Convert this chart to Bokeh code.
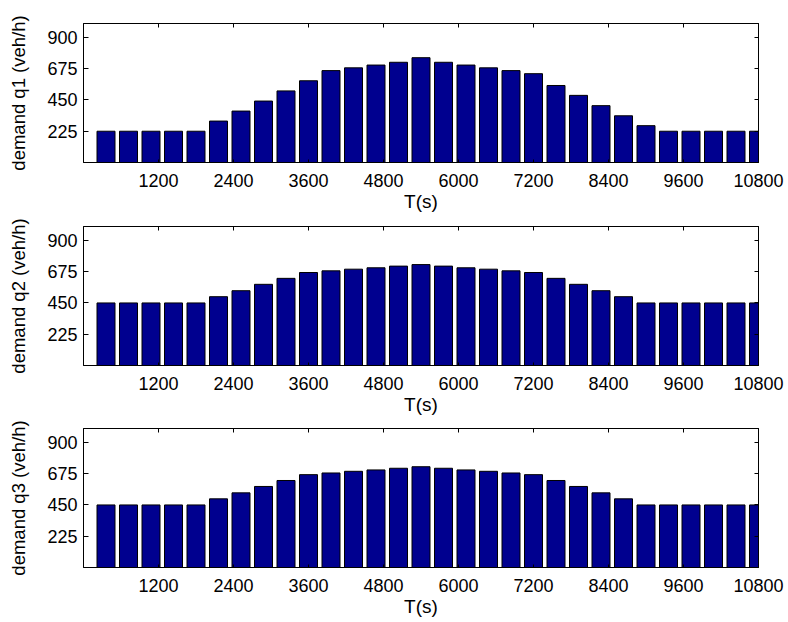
from bokeh.plotting import figure
from bokeh.layouts import column
from bokeh.models import FixedTicker, LinearAxis, Range1d, CustomJSTickFormatter
from bokeh.embed import file_html
from bokeh.resources import INLINE

# ---- data ----
time_s = [360, 720, 1080, 1440, 1800, 2160, 2520, 2880, 3240, 3600,
          3960, 4320, 4680, 5040, 5400, 5760, 6120, 6480, 6840, 7200,
          7560, 7920, 8280, 8640, 9000, 9360, 9720, 10080, 10440, 10800]
q1 = [225, 225, 225, 225, 225, 298, 370, 442, 515, 588,
      661, 681, 701, 721, 754, 721, 701, 681, 661, 639,
      554, 483, 409, 336, 265, 225, 225, 225, 225, 225]
q2 = [450, 450, 450, 450, 450, 495, 538, 584, 627, 669,
      681, 693, 703, 715, 726, 715, 703, 693, 681, 669,
      627, 584, 538, 495, 450, 450, 450, 450, 450, 450]
q3 = [450, 450, 450, 450, 450, 494, 537, 583, 626, 668,
      680, 692, 702, 714, 725, 714, 702, 692, 680, 668,
      626, 583, 537, 494, 450, 450, 450, 450, 450, 450]
x_ticks = [1200, 2400, 3600, 4800, 6000, 7200, 8400, 9600, 10800]
y_ticks = [225, 450, 675, 900]
y_labels = ["demand q1 (veh/h)", "demand q2 (veh/h)", "demand q3 (veh/h)"]
x_label = "T(s)"

FONT = "Liberation Sans"
BAR = "#00008F"


def make_panel(values, ylabel, height, top_b, bottom_b, tick_so, lab_so):
    p = figure(width=788, height=height,
               x_range=Range1d(0, 10800), y_range=Range1d(0, 1000),
               output_backend="svg", toolbar_location=None,
               min_border_left=83, min_border_right=30,
               min_border_top=top_b, min_border_bottom=bottom_b,
               background_fill_color="white", border_fill_color="white")
    p.grid.visible = False
    p.outline_line_color = "black"
    p.outline_line_alpha = 1.0
    p.outline_line_width = 1

    p.vbar(x=time_s, top=values, width=288, bottom=0,
           fill_color=BAR, line_color="black", line_width=1)

    xa = p.xaxis[0]
    xa.ticker = FixedTicker(ticks=x_ticks)
    xa.major_tick_in = 3
    xa.major_tick_out = 0
    xa.minor_tick_in = 0
    xa.minor_tick_out = 0
    xa.major_label_standoff = tick_so
    xa.major_label_text_font = FONT
    xa.major_label_text_font_size = "18px"
    xa.major_label_text_color = "black"
    xa.axis_label = x_label
    xa.axis_label_text_font = FONT
    xa.axis_label_text_font_size = "19px"
    xa.axis_label_text_font_style = "normal"
    xa.axis_label_text_color = "black"
    xa.axis_label_standoff = lab_so
    xa.axis_line_color = "black"

    ya = p.yaxis[0]
    ya.ticker = FixedTicker(ticks=y_ticks)
    ya.major_tick_in = 5
    ya.major_tick_out = 0
    ya.minor_tick_in = 0
    ya.minor_tick_out = 0
    ya.major_label_standoff = 6
    ya.major_label_text_font = FONT
    ya.major_label_text_font_size = "18px"
    ya.major_label_text_color = "black"
    ya.axis_label = ylabel
    ya.axis_label_text_font = FONT
    ya.axis_label_text_font_size = "18.5px"
    ya.axis_label_text_font_style = "normal"
    ya.axis_label_text_color = "black"
    ya.axis_label_standoff = 15
    ya.axis_line_color = "black"

    top_ax = LinearAxis(ticker=FixedTicker(ticks=x_ticks),
                        formatter=CustomJSTickFormatter(code="return ''"),
                        major_tick_in=4, major_tick_out=0,
                        minor_tick_in=0, minor_tick_out=0,
                        major_label_standoff=0,
                        major_label_text_font_size="1px",
                        axis_line_color="black")
    p.add_layout(top_ax, "above")
    right_ax = LinearAxis(ticker=FixedTicker(ticks=y_ticks),
                          formatter=CustomJSTickFormatter(code="return ''"),
                          major_tick_in=4, major_tick_out=0,
                          minor_tick_in=0, minor_tick_out=0,
                          major_label_standoff=0,
                          major_label_text_font_size="1px",
                          axis_line_color="black")
    p.add_layout(right_ax, "right")
    return p


p1 = make_panel(q1, y_labels[0], 215, 23, 53, 11, 1)
p2 = make_panel(q2, y_labels[1], 203, 11, 53, 11, 1)
p3 = make_panel(q3, y_labels[2], 202, 10, 53, 11, 1)

layout = column(p1, p2, p3, spacing=0)
open("out.html", "w").write(file_html(layout, INLINE))
